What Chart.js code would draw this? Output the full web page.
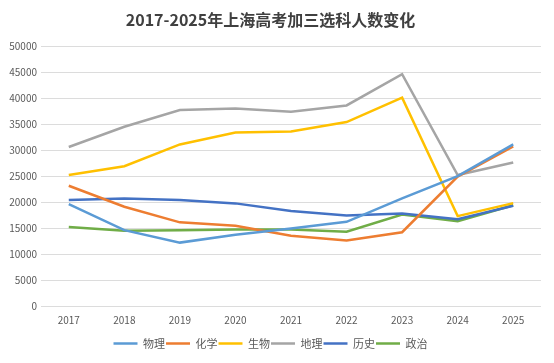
<!DOCTYPE html>
<html>
<head>
<meta charset="utf-8">
<script src="https://cdn.jsdelivr.net/npm/chart.js@4"></script>
<style>
html,body{margin:0;padding:0;background:#fff;}
#wrap{width:554px;height:363px;position:relative;}
</style>
</head>
<body>
<div id="wrap"><canvas id="c" width="554" height="363"></canvas></div>
<script>
const years = ['2017','2018','2019','2020','2021','2022','2023','2024','2025'];
const physics   = [19600, 14600, 12200, 13700, 14900, 16200, 20700, 25000, 31100];
const chemistry = [23150, 19100, 16100, 15450, 13500, 12600, 14200, 24900, 30700];
const biology   = [25200, 26900, 31100, 33400, 33600, 35400, 40100, 17300, 19800];
const geography = [30600, 34500, 37700, 38000, 37400, 38600, 44600, 25200, 27600];
const history   = [20400, 20700, 20400, 19750, 18300, 17400, 17800, 16700, 19300];
const politics  = [15200, 14500, 14600, 14700, 14700, 14300, 17600, 16300, 19400];
const seriesNames = ['物理','化学','生物','地理','历史','政治'];
const yTicks = [0,5000,10000,15000,20000,25000,30000,35000,40000,45000,50000];

const colors = ['#5B9BD5','#ED7D31','#FFC000','#A5A5A5','#4472C4','#70AD47'];
const values = [physics, chemistry, biology, geography, history, politics];

const FONT = "'Noto Sans CJK SC', 'Noto Sans', sans-serif";

new Chart(document.getElementById('c'), {
  type: 'line',
  data: {
    labels: years,
    datasets: seriesNames.map((n, i) => ({
      label: n,
      data: values[i],
      borderColor: colors[i],
      backgroundColor: colors[i],
      borderWidth: 2.5,
      pointRadius: 0,
      pointHoverRadius: 0,
      tension: 0,
      fill: false
    }))
  },
  options: {
    responsive: false,
    animation: false,
    layout: { padding: { left: 0, right: 13, top: 4, bottom: 4 } },
    plugins: {
      title: {
        display: true,
        text: '2017-2025年上海高考加三选科人数变化',
        color: '#404040',
        font: { family: FONT, size: 16, weight: 'bold' },
        padding: { top: 6, bottom: 17 }
      },
      legend: {
        position: 'bottom',
        labels: {
          usePointStyle: true,
          pointStyle: 'line',
          pointStyleWidth: 24,
          boxHeight: 10,
          color: '#595959',
          font: { family: FONT, size: 11 },
          padding: 1
        }
      },
      tooltip: { enabled: false }
    },
    scales: {
      x: {
        offset: true,
        afterFit: (s) => { s.height += 3; },
        grid: { display: false, drawTicks: false, offset: true },
        border: { display: false },
        ticks: { color: '#595959', font: { family: FONT, size: 10 }, padding: 8, maxRotation: 0 }
      },
      y: {
        min: 0, max: 50000,
        afterBuildTicks: (s) => { s.ticks = yTicks.map(v => ({ value: v })); },
        afterFit: (s) => { s.width = 41; },
        grid: { color: '#DCDCDC', lineWidth: 1, drawTicks: false },
        border: { display: false },
        ticks: { color: '#595959', font: { family: FONT, size: 10 }, padding: 4, callback: (v) => String(v) }
      }
    }
  }
});
</script>
</body>
</html>
